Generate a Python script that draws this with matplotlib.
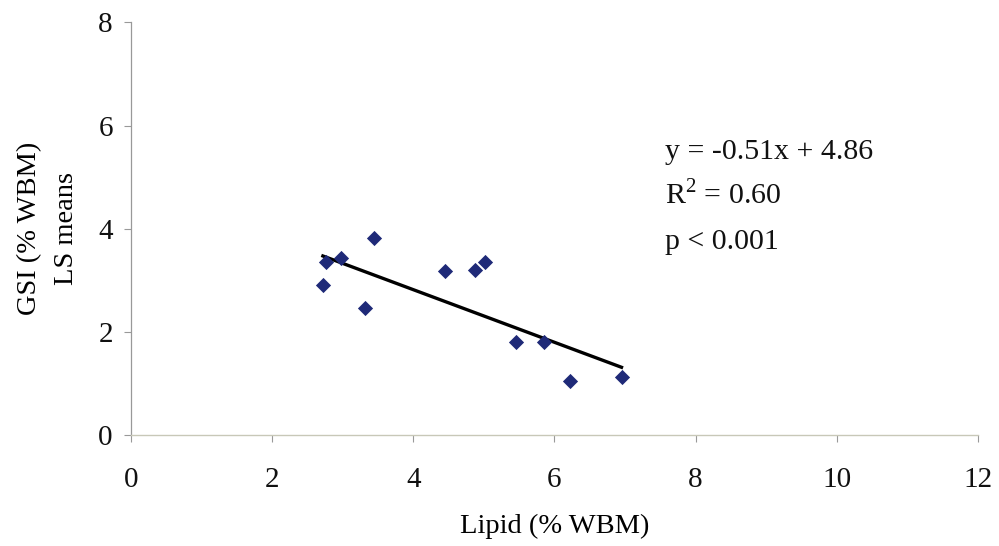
import matplotlib
matplotlib.use("Agg")
import matplotlib.pyplot as plt
import numpy as np

# lipid vs GSI (LS means), both as % wet body mass
lipid = [2.72, 2.76, 2.97, 3.31, 3.45, 4.45, 4.87, 5.02, 5.46, 5.85, 6.22, 6.95]
gsi = [2.91, 3.35, 3.44, 2.46, 3.83, 3.18, 3.21, 3.35, 1.81, 1.81, 1.05, 1.13]

# regression reported on the figure
slope = -0.51
intercept = 4.86
r2 = 0.60

plt.rcParams['font.family'] = ['Liberation Serif', 'DejaVu Serif']
plt.rcParams['mathtext.fontset'] = 'custom'
plt.rcParams['mathtext.rm'] = 'Liberation Serif'

fs = 20.5

fig = plt.figure(figsize=(9.99, 5.46), dpi=100)
ax = fig.add_axes([0.131, 0.203, 0.848, 0.756])

ax.scatter(lipid, gsi, marker='D', s=60, color='#1f2a78', zorder=3, linewidths=0)

xfit = np.array([min(lipid), max(lipid)])
ax.plot(xfit, slope*xfit + intercept, color='black', lw=2.4, zorder=2)

ax.set_xlim(0, 12)
ax.set_ylim(0, 8)
ax.set_xticks(range(0, 13, 2))
ax.set_yticks(range(0, 9, 2))

for s in ['top', 'right']:
    ax.spines[s].set_visible(False)
ax.spines['left'].set_color('#999999')
ax.spines['bottom'].set_color('#c8c8b8')
ax.spines['left'].set_linewidth(0.9)
ax.spines['bottom'].set_linewidth(1.0)
ax.tick_params(axis='both', colors='#999999', labelcolor='#111111', labelsize=21, length=5, width=0.8)
ax.tick_params(axis='x', pad=18)
ax.tick_params(axis='y', pad=8)

ax.set_xlabel("Lipid (% WBM)", fontsize=fs, labelpad=15)
ax.set_ylabel("GSI (% WBM)\nLS means", fontsize=fs, labelpad=14, linespacing=1.6)

ax.text(0.631, 0.670, f"y = {slope:.2f}x + {intercept:.2f}", transform=ax.transAxes, fontsize=21.5, color='#111111')
ax.text(0.631, 0.560, r"R$^\mathrm{2}$" + f" = {r2:.2f}", transform=ax.transAxes, fontsize=21.5, color='#111111')
ax.text(0.631, 0.452, "p < 0.001", transform=ax.transAxes, fontsize=21.5, color='#111111')

plt.savefig("out.png", dpi=100)
